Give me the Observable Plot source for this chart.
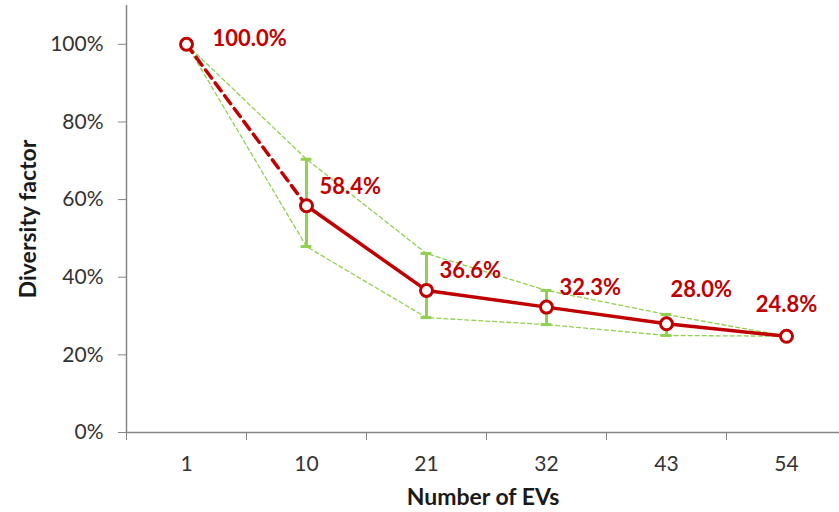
<!DOCTYPE html>
<html>
<head>
<meta charset="utf-8">
<script src="https://cdn.jsdelivr.net/npm/d3@7"></script>
<script src="https://cdn.jsdelivr.net/npm/@observablehq/plot@0.6"></script>
<style>
  html, body { margin: 0; padding: 0; background: #fff; }
  #chart { width: 839px; height: 512px; }
</style>
</head>
<body>
<div id="chart"></div>
<script>
// ---- data ----
const evs = [1, 10, 21, 32, 43, 54];                       // x categories
const diversity = [100.0, 58.4, 36.6, 32.3, 28.0, 24.8];   // diversity factor (%)
const upper = [100.0, 70.4, 46.1, 36.6, 30.4, 24.8];       // upper bound (%)
const lower = [100.0, 47.9, 29.6, 27.8, 25.0, 24.8];       // lower bound (%)
const yTicks = [0, 20, 40, 60, 80, 100];
const xTitle = "Number of EVs";
const yTitle = "Diversity factor";

const rows = evs.map((e, i) => ({i, ev: e, v: diversity[i], hi: upper[i], lo: lower[i]}));
const errRows = rows.filter(d => d.hi !== d.lo);
const red = "#c00000";
const green = "#92d050";
const axisGray = "#868686";
const font = "Lato, 'Open Sans', sans-serif";

const labelFmt = v => v.toFixed(1) + "%";
const LBL = 22;

const chart = Plot.plot({
  width: 839,
  height: 512,
  marginLeft: 126,
  marginTop: 5,
  marginBottom: 80,
  marginRight: 0,
  style: {fontFamily: font, background: "#fff", overflow: "visible"},
  x: {domain: [-0.5, evs.length - 0.5], range: [126, 846]},
  y: {domain: [0, 110]},
  marks: [
    // axes
    Plot.axisY({ticks: yTicks, tickFormat: d => d + "%", tickSize: 8, tickPadding: 15,
      fontSize: 21, stroke: axisGray, fill: "#333", label: null}),
    Plot.axisX({ticks: d3.range(-0.5, evs.length + 0.5, 1), tickFormat: () => "", tickSize: 8,
      stroke: axisGray, label: null}),
    Plot.axisX({ticks: d3.range(evs.length), tickFormat: i => evs[i], tickSize: 0, tickPadding: 24,
      fontSize: 21, fill: "#333", label: null}),
    Plot.ruleX([-0.5], {y1: 0, y2: 110, stroke: axisGray, strokeWidth: 1.5}),
    Plot.ruleY([0], {x1: -0.5, x2: evs.length - 0.5, stroke: axisGray, strokeWidth: 1.5}),
    // titles
    Plot.text([xTitle], {frameAnchor: "bottom", dy: 65, fontSize: 23, fontWeight: "bold", fill: "#1a1a1a", lineAnchor: "middle"}),
    Plot.text([yTitle], {frameAnchor: "left", dx: -98, rotate: -90, textAnchor: "middle", lineAnchor: "middle",
      fontSize: 23, fontWeight: "bold", fill: "#1a1a1a"}),
    // envelope
    Plot.line(rows, {x: "i", y: "hi", stroke: green, strokeWidth: 1.3, strokeDasharray: "4,3"}),
    Plot.line(rows, {x: "i", y: "lo", stroke: green, strokeWidth: 1.3, strokeDasharray: "4,3"}),
    // error bars
    Plot.ruleX(errRows, {x: "i", y1: "lo", y2: "hi", stroke: green, strokeWidth: 3}),
    Plot.ruleY(errRows, {y: "hi", x1: d => d.i - 0.045, x2: d => d.i + 0.045, stroke: green, strokeWidth: 3}),
    Plot.ruleY(errRows, {y: "lo", x1: d => d.i - 0.045, x2: d => d.i + 0.045, stroke: green, strokeWidth: 3}),
    // main line
    Plot.line(rows.slice(0, 2), {x: "i", y: "v", stroke: red, strokeWidth: 3.5, strokeDasharray: "10,6"}),
    Plot.line(rows.slice(1), {x: "i", y: "v", stroke: red, strokeWidth: 3.5}),
    Plot.dot(rows, {x: "i", y: "v", r: 6, fill: "white", stroke: red, strokeWidth: 3}),
    // value labels
    Plot.text(rows.filter(d => d.i === 0), {x: "i", y: "v", text: d => labelFmt(d.v), dx: 26, dy: -5,
      textAnchor: "start", fill: red, fontWeight: "bold", fontSize: LBL}),
    Plot.text(rows.filter(d => d.i >= 1 && d.i <= 3), {x: "i", y: "v", text: d => labelFmt(d.v), dx: 13, dy: -19,
      textAnchor: "start", fill: red, fontWeight: "bold", fontSize: LBL}),
    Plot.text(rows.filter(d => d.i === 4), {x: "i", y: "v", text: d => labelFmt(d.v), dx: 4, dy: -34,
      textAnchor: "start", fill: red, fontWeight: "bold", fontSize: LBL}),
    Plot.text(rows.filter(d => d.i === 5), {x: "i", y: "v", text: d => labelFmt(d.v), dy: -31,
      textAnchor: "middle", fill: red, fontWeight: "bold", fontSize: LBL})
  ]
});
document.getElementById("chart").appendChild(chart);
</script>
</body>
</html>
